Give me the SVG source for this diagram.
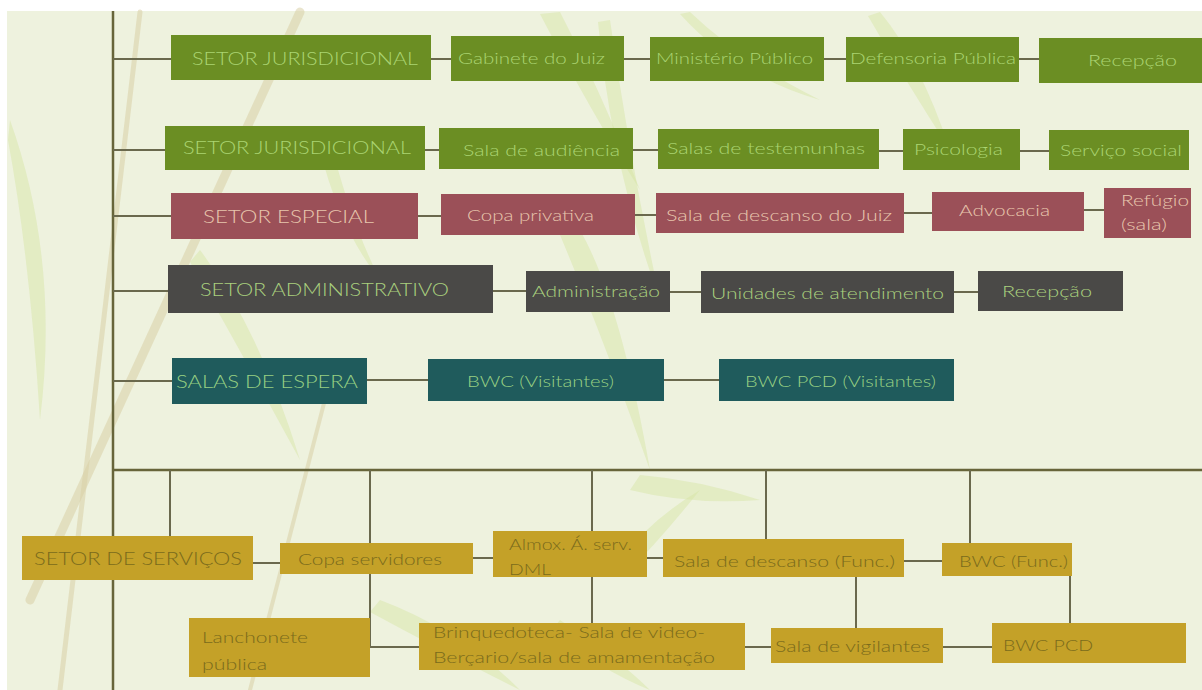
<svg xmlns="http://www.w3.org/2000/svg" width="1202" height="690" viewBox="0 0 1202 690">
  <style>
    .g { fill: #6b8e23; }
    .r { fill: #9b5058; }
    .d { fill: #4a4947; }
    .t { fill: #1f5b5c; }
    .y { fill: #c4a128; }
    text { font-family: "Lato", "Open Sans", "Liberation Sans", sans-serif; font-weight: 300; }
    .hd { font-size: 18px; }
    .lb { font-size: 15px; }
    .tg { fill: #aad472; }
    .tr { fill: #e8c6ad; }
    .td { fill: #a9d07e; }
    .tt { fill: #97d083; }
    .ty { fill: #7a6b1c; }
    .trunk { stroke: #67653a; stroke-width: 2.5; fill: none; }
    .link { stroke: #6a694d; stroke-width: 2; fill: none; }
    .leaf { fill: #d5e4a2; opacity: 0.45; }
    .stem { stroke: #d9cfa6; fill: none; opacity: 0.55; stroke-linecap: round; }
  </style>

  <!-- paper -->
  <rect x="0" y="0" width="1202" height="690" fill="#ffffff"/>
  <rect x="7" y="11" width="1195" height="679" fill="#eef2de"/>

  <!-- faint bamboo backdrop -->
  <g id="backdrop">
    <path class="stem" d="M300 12 L30 600" stroke-width="9"/>
    <path class="stem" d="M140 12 L60 690" stroke-width="5"/>
    <path class="stem" d="M330 380 L250 690" stroke-width="4"/>
    <path class="leaf" d="M560 12 Q600 90 640 190 Q590 110 540 14 Z"/>
    <path class="leaf" d="M610 20 Q630 160 660 300 Q612 170 598 22 Z"/>
    <path class="leaf" d="M690 12 Q740 60 820 100 Q735 75 680 14 Z"/>
    <path class="leaf" d="M580 230 Q620 300 650 470 Q600 330 560 235 Z"/>
    <path class="leaf" d="M640 475 Q700 480 760 500 Q690 505 630 490 Z"/>
    <path class="leaf" d="M620 560 Q650 520 700 490 Q660 540 625 575 Z"/>
    <path class="leaf" d="M10 120 Q60 260 40 420 Q30 260 8 140 Z"/>
    <path class="leaf" d="M200 250 Q260 330 300 460 Q240 350 190 262 Z"/>
    <path class="leaf" d="M380 600 Q460 630 520 690 Q440 650 370 612 Z"/>
    <path class="leaf" d="M560 620 Q620 660 650 690 Q600 670 552 630 Z"/>
    <path class="leaf" d="M880 12 Q920 60 950 150 Q905 80 868 16 Z"/>
    <path class="leaf" d="M330 140 Q350 220 380 280 Q340 230 320 150 Z"/>
  </g>

  <!-- connectors -->
  <g id="connectors">
    <line class="trunk" x1="113" y1="11" x2="113" y2="690"/>
    <line class="trunk" x1="113" y1="470" x2="1202" y2="470"/>

    <!-- row 1 -->
    <line class="link" x1="113" y1="59" x2="171" y2="59"/>
    <line class="link" x1="431" y1="59" x2="451" y2="59"/>
    <line class="link" x1="624" y1="59" x2="650" y2="59"/>
    <line class="link" x1="824" y1="59" x2="846" y2="59"/>
    <line class="link" x1="1019" y1="59" x2="1039" y2="59"/>
    <!-- row 2 -->
    <line class="link" x1="113" y1="150" x2="165" y2="150"/>
    <line class="link" x1="425" y1="150" x2="439" y2="150"/>
    <line class="link" x1="633" y1="150" x2="658" y2="150"/>
    <line class="link" x1="879" y1="151" x2="903" y2="151"/>
    <line class="link" x1="1020" y1="151" x2="1049" y2="151"/>
    <!-- row 3 -->
    <line class="link" x1="113" y1="216" x2="171" y2="216"/>
    <line class="link" x1="418" y1="216" x2="441" y2="216"/>
    <line class="link" x1="635" y1="215" x2="656" y2="215"/>
    <line class="link" x1="904" y1="213" x2="932" y2="213"/>
    <line class="link" x1="1084" y1="210" x2="1104" y2="210"/>
    <!-- row 4 -->
    <line class="link" x1="113" y1="291" x2="168" y2="291"/>
    <line class="link" x1="493" y1="291" x2="526" y2="291"/>
    <line class="link" x1="670" y1="292" x2="701" y2="292"/>
    <line class="link" x1="954" y1="292" x2="978" y2="292"/>
    <!-- row 5 -->
    <line class="link" x1="113" y1="381" x2="172" y2="381"/>
    <line class="link" x1="367" y1="380" x2="428" y2="380"/>
    <line class="link" x1="664" y1="380" x2="719" y2="380"/>

    <!-- drops from the service bus -->
    <line class="link" x1="170" y1="470" x2="170" y2="536"/>
    <line class="link" x1="370" y1="470" x2="370" y2="543"/>
    <line class="link" x1="592" y1="470" x2="592" y2="531"/>
    <line class="link" x1="766" y1="470" x2="766" y2="539"/>
    <line class="link" x1="970" y1="470" x2="970" y2="543"/>

    <!-- service row -->
    <line class="link" x1="253" y1="563" x2="280" y2="563"/>
    <line class="link" x1="473" y1="558" x2="493" y2="558"/>
    <line class="link" x1="647" y1="558" x2="663" y2="558"/>
    <line class="link" x1="904" y1="561" x2="942" y2="561"/>

    <!-- lower service row -->
    <polyline class="link" points="370,574 370,647 419,647"/>
    <line class="link" x1="592" y1="577" x2="592" y2="623"/>
    <line class="link" x1="856" y1="577" x2="856" y2="628"/>
    <line class="link" x1="1070" y1="576" x2="1070" y2="623"/>
    <line class="link" x1="745" y1="647" x2="771" y2="647"/>
    <line class="link" x1="943" y1="647" x2="992" y2="647"/>
  </g>

  <!-- row 1 -->
  <g id="setor-jurisdicional-1">
    <rect class="g" x="171" y="35" width="260" height="45"/>
    <text class="hd tg" x="192" y="65" textLength="226" lengthAdjust="spacingAndGlyphs">SETOR JURISDICIONAL</text>
  </g>
  <g id="gabinete-juiz">
    <rect class="g" x="451" y="36" width="173" height="45"/>
    <text class="lb tg" x="458" y="64" textLength="147" lengthAdjust="spacingAndGlyphs">Gabinete do Juiz</text>
  </g>
  <g id="ministerio-publico">
    <rect class="g" x="650" y="37" width="174" height="44"/>
    <text class="lb tg" x="656" y="64" textLength="157" lengthAdjust="spacingAndGlyphs">Ministério Público</text>
  </g>
  <g id="defensoria-publica">
    <rect class="g" x="846" y="37" width="173" height="45"/>
    <text class="lb tg" x="850" y="64" textLength="166" lengthAdjust="spacingAndGlyphs">Defensoria Pública</text>
  </g>
  <g id="recepcao-1">
    <rect class="g" x="1039" y="38" width="163" height="45"/>
    <text class="lb tg" x="1088" y="66" textLength="89" lengthAdjust="spacingAndGlyphs">Recepção</text>
  </g>

  <!-- row 2 -->
  <g id="setor-jurisdicional-2">
    <rect class="g" x="165" y="126" width="260" height="44"/>
    <text class="hd tg" x="183" y="154" textLength="228" lengthAdjust="spacingAndGlyphs">SETOR JURISDICIONAL</text>
  </g>
  <g id="sala-audiencia">
    <rect class="g" x="439" y="128" width="194" height="41"/>
    <text class="lb tg" x="463" y="156" textLength="157" lengthAdjust="spacingAndGlyphs">Sala de audiência</text>
  </g>
  <g id="salas-testemunhas">
    <rect class="g" x="658" y="129" width="221" height="40"/>
    <text class="lb tg" x="667" y="154" textLength="198" lengthAdjust="spacingAndGlyphs">Salas de testemunhas</text>
  </g>
  <g id="psicologia">
    <rect class="g" x="903" y="129" width="117" height="41"/>
    <text class="lb tg" x="914" y="155" textLength="89" lengthAdjust="spacingAndGlyphs">Psicologia</text>
  </g>
  <g id="servico-social">
    <rect class="g" x="1049" y="130" width="140" height="40"/>
    <text class="lb tg" x="1060" y="156" textLength="122" lengthAdjust="spacingAndGlyphs">Serviço social</text>
  </g>

  <!-- row 3 -->
  <g id="setor-especial">
    <rect class="r" x="171" y="193" width="247" height="46"/>
    <text class="hd tr" x="203" y="223" textLength="171" lengthAdjust="spacingAndGlyphs">SETOR ESPECIAL</text>
  </g>
  <g id="copa-privativa">
    <rect class="r" x="441" y="194" width="194" height="41"/>
    <text class="lb tr" x="467" y="221" textLength="127" lengthAdjust="spacingAndGlyphs">Copa privativa</text>
  </g>
  <g id="sala-descanso-juiz">
    <rect class="r" x="656" y="193" width="248" height="40"/>
    <text class="lb tr" x="666" y="221" textLength="226" lengthAdjust="spacingAndGlyphs">Sala de descanso do Juiz</text>
  </g>
  <g id="advocacia">
    <rect class="r" x="932" y="192" width="152" height="39"/>
    <text class="lb tr" x="959" y="216" textLength="91" lengthAdjust="spacingAndGlyphs">Advocacia</text>
  </g>
  <g id="refugio">
    <rect class="r" x="1104" y="188" width="87" height="50"/>
    <text class="lb tr" x="1121" y="206" textLength="68" lengthAdjust="spacingAndGlyphs">Refúgio</text>
    <text class="lb tr" x="1121" y="230" textLength="46" lengthAdjust="spacingAndGlyphs">(sala)</text>
  </g>

  <!-- row 4 -->
  <g id="setor-administrativo">
    <rect class="d" x="168" y="265" width="325" height="48"/>
    <text class="hd td" x="200" y="296" textLength="249" lengthAdjust="spacingAndGlyphs">SETOR ADMINISTRATIVO</text>
  </g>
  <g id="administracao">
    <rect class="d" x="526" y="271" width="144" height="41"/>
    <text class="lb td" x="532" y="297" textLength="128" lengthAdjust="spacingAndGlyphs">Administração</text>
  </g>
  <g id="unidades-atendimento">
    <rect class="d" x="701" y="271" width="253" height="42"/>
    <text class="lb td" x="711" y="299" textLength="233" lengthAdjust="spacingAndGlyphs">Unidades de atendimento</text>
  </g>
  <g id="recepcao-2">
    <rect class="d" x="978" y="271" width="145" height="40"/>
    <text class="lb td" x="1002" y="297" textLength="90" lengthAdjust="spacingAndGlyphs">Recepção</text>
  </g>

  <!-- row 5 -->
  <g id="salas-espera">
    <rect class="t" x="172" y="358" width="195" height="46"/>
    <text class="hd tt" x="176" y="388" textLength="182" lengthAdjust="spacingAndGlyphs">SALAS DE ESPERA</text>
  </g>
  <g id="bwc-visitantes">
    <rect class="t" x="428" y="359" width="236" height="42"/>
    <text class="lb tt" x="467" y="387" textLength="147" lengthAdjust="spacingAndGlyphs">BWC (Visitantes)</text>
  </g>
  <g id="bwc-pcd-visitantes">
    <rect class="t" x="719" y="359" width="235" height="42"/>
    <text class="lb tt" x="745" y="387" textLength="191" lengthAdjust="spacingAndGlyphs">BWC PCD (Visitantes)</text>
  </g>

  <!-- service sector -->
  <g id="setor-servicos">
    <rect class="y" x="22" y="536" width="231" height="44"/>
    <text class="hd ty" x="34" y="565" textLength="208" lengthAdjust="spacingAndGlyphs">SETOR DE SERVIÇOS</text>
  </g>
  <g id="copa-servidores">
    <rect class="y" x="280" y="543" width="193" height="31"/>
    <text class="lb ty" x="298" y="565" textLength="144" lengthAdjust="spacingAndGlyphs">Copa servidores</text>
  </g>
  <g id="almox-dml">
    <rect class="y" x="493" y="531" width="154" height="46"/>
    <text class="lb ty" x="509" y="550" textLength="123" lengthAdjust="spacingAndGlyphs">Almox. Á. serv.</text>
    <text class="lb ty" x="509" y="575" textLength="42" lengthAdjust="spacingAndGlyphs">DML</text>
  </g>
  <g id="sala-descanso-func">
    <rect class="y" x="663" y="539" width="241" height="38"/>
    <text class="lb ty" x="674" y="567" textLength="221" lengthAdjust="spacingAndGlyphs">Sala de descanso (Func.)</text>
  </g>
  <g id="bwc-func">
    <rect class="y" x="942" y="543" width="130" height="33"/>
    <text class="lb ty" x="959" y="567" textLength="109" lengthAdjust="spacingAndGlyphs">BWC (Func.)</text>
  </g>
  <g id="lanchonete">
    <rect class="y" x="189" y="618" width="181" height="59"/>
    <text class="lb ty" x="202" y="643" textLength="106" lengthAdjust="spacingAndGlyphs">Lanchonete</text>
    <text class="lb ty" x="202" y="670" textLength="65" lengthAdjust="spacingAndGlyphs">pública</text>
  </g>
  <g id="brinquedoteca">
    <rect class="y" x="419" y="623" width="326" height="47"/>
    <text class="lb ty" x="433" y="638" textLength="272" lengthAdjust="spacingAndGlyphs">Brinquedoteca- Sala de video-</text>
    <text class="lb ty" x="433" y="663" textLength="282" lengthAdjust="spacingAndGlyphs">Berçario/sala de amamentação</text>
  </g>
  <g id="sala-vigilantes">
    <rect class="y" x="771" y="628" width="172" height="35"/>
    <text class="lb ty" x="775" y="652" textLength="155" lengthAdjust="spacingAndGlyphs">Sala de vigilantes</text>
  </g>
  <g id="bwc-pcd">
    <rect class="y" x="992" y="623" width="194" height="40"/>
    <text class="lb ty" x="1003" y="651" textLength="90" lengthAdjust="spacingAndGlyphs">BWC PCD</text>
  </g>
</svg>
